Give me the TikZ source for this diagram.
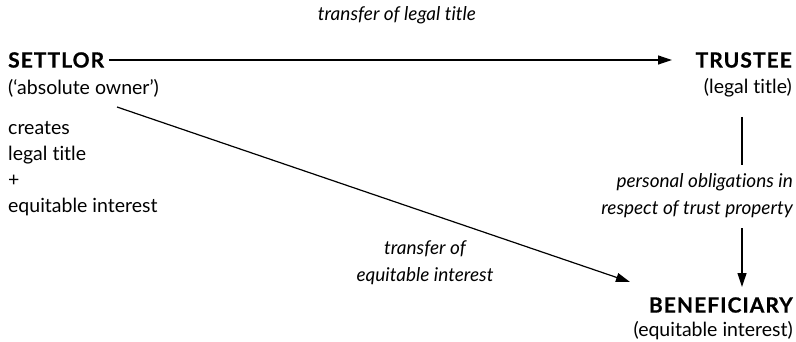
\documentclass[tikz,border=0pt]{standalone}
\usepackage{fontspec}
\setmainfont{Lato}[Ligatures={NoCommon}]
\newfontfamily\headfont{Lato}[Ligatures={NoCommon},LetterSpace=5,BoldFeatures={FakeBold=0.6}]
\usetikzlibrary{arrows.meta}
\begin{document}
\begin{tikzpicture}[x=1pt,y=-1pt,
  party/.style={inner sep=0pt,font=\headfont\fontsize{21}{24}\selectfont\bfseries},
  role/.style={inner sep=0pt,font=\fontsize{19.5}{22}\selectfont},
  note/.style={inner sep=0pt,align=left,font=\fontsize{19.5}{26}\selectfont},
  edgelabel/.style={inner sep=0pt,font=\fontsize{19}{27}\selectfont\itshape},
  link/.style={line width=1.2pt},
  flow/.style={link,-{Triangle[length=14pt,width=9pt]}}]
\useasboundingbox (0,0) rectangle (796,342);
% parties
\node[party,anchor=west] (settlor) at (8,60) {SETTLOR};
\node[role,anchor=west] (settlorsub) at (8,88) {(`absolute owner')};
\node[note,anchor=north west] (creates) at (8,121) {creates\\legal title\\+\\equitable interest};
\node[party,anchor=east] (trustee) at (792,60) {TRUSTEE};
\node[role,anchor=east] (trusteesub) at (792,88) {(legal title)};
\node[party,anchor=east] (beneficiary) at (793,305) {BENEFICIARY};
\node[role,anchor=east] (beneficiarysub) at (793,331) {(equitable interest)};
% edge labels
\node[edgelabel] (legallabel) at (397,15) {transfer of legal title};
\node[edgelabel,align=right,anchor=east] (oblig) at (793,196) {personal obligations in\\respect of trust property};
\node[edgelabel,align=center] (eqlabel) at (425,263) {transfer of\\equitable interest};
% connectors
\coordinate (diagstart) at (117,107);
\coordinate (diagend) at (630,282);
\coordinate (vtop) at (742,117);
\draw[flow] (settlor.east) ++(5,0) -- (trustee.west -| 672,0);
\draw[link] (vtop) -- (vtop |- 0,165);
\draw[flow] (vtop |- oblig.south) ++(0,10) -- (vtop |- 0,287);
\draw[flow] (diagstart) -- (diagend);
\end{tikzpicture}
\end{document}
